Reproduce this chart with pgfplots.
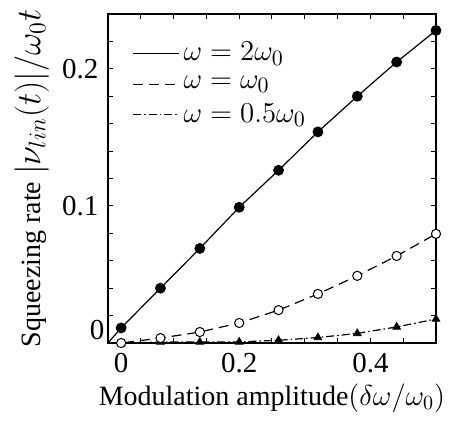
\documentclass[border=0pt]{standalone}
\usepackage{pgfplots}
\pgfplotsset{compat=1.18}
\usepackage{fontspec}
\setmainfont{Liberation Serif}

\pgfplotstableread{
x     a      b       c
0.00  0.000  0.000   0.000
0.02  0.011  0.000   0.000
0.08  0.040  0.0036  0.0007
0.14  0.069  0.008   0.0007
0.20  0.099  0.0146  0.0008
0.26  0.126  0.024   0.002
0.32  0.154  0.0358  0.004
0.38  0.180  0.049   0.007
0.44  0.205  0.0635  0.0117
0.50  0.228  0.0796  0.0175
}\sq

\begin{document}
\fontsize{14}{16}\selectfont
\begin{tikzpicture}
\useasboundingbox (-54pt,-40.5pt) rectangle (175.5pt,171.5pt);
\begin{axis}[
  scale only axis, width=164pt, height=164.5pt,
  xmin=0, xmax=0.5, ymin=0, ymax=0.24,
  xtick={0,0.05,0.1,0.15,0.2,0.25,0.3,0.35,0.4,0.45},
  xticklabels={,,,,0.2,,,,0.4,},
  ytick={0,0.02,0.04,0.06,0.08,0.1,0.12,0.14,0.16,0.18,0.2,0.22},
  yticklabels={,,,,,0.1,,,,,0.2,},
  extra x ticks={0.02}, extra x tick labels={0},
  extra x tick style={major tick length=0pt},
  extra y ticks={0}, extra y tick labels={0},
  extra y tick style={major tick length=0pt, yticklabel style={yshift=6.5pt, xshift=3pt}},
  xtick pos=both, ytick pos=both,
  xticklabel pos=bottom, yticklabel pos=left,
  tick align=inside, major tick length=2.5pt,
  tick style={black, line width=0.5pt},
  axis line style={line width=0.6pt},
  /pgf/number format/assume math mode=true,
  ticklabel style={font=\fontsize{14.5}{16}\selectfont},
  label style={font=\fontsize{14}{16}\selectfont},
  xlabel={Modulation amplitude$(\delta\omega/\omega_0)$},
  ylabel={Squeezing rate {\fontsize{17}{19}\selectfont$|\nu_{lin}(t)|/\omega_0 t$}},
  xlabel style={yshift=4pt},
  ylabel style={yshift=-3pt},
  legend style={at={(axis description cs:0.055,0.94)}, anchor=north west,
    draw=none, fill=none, font=\fontsize{15.5}{17}\selectfont, row sep=1.5pt},
  legend cell align=left,
  legend image code/.code={\draw[#1] (0pt,0pt) -- (23pt,0pt);},
  clip=false]
\addplot[black, line width=0.6pt] table[x=x, y=a] {\sq};
\addlegendentry{$\omega=2\omega_0$}
\addplot[black, line width=0.6pt, dash pattern=on 5pt off 3pt] table[x=x, y=b] {\sq};
\addlegendentry{$\omega=\omega_0$}
\addplot[black, line width=0.6pt, dash pattern=on 4pt off 1.5pt on 0.8pt off 1.5pt] table[x=x, y=c] {\sq};
\addlegendentry{$\omega=0.5\omega_0$}
\addplot[only marks, mark=triangle*, mark size=2.2pt, black, skip coords between index={0}{1}, forget plot] table[x=x, y=c] {\sq};
\addplot[only marks, mark=*, mark size=2.3pt, mark options={fill=white, line width=0.5pt}, black, skip coords between index={0}{1}, forget plot] table[x=x, y=b] {\sq};
\addplot[only marks, mark=*, mark size=2.5pt, black, skip coords between index={0}{1}, forget plot] table[x=x, y=a] {\sq};
\end{axis}
\end{tikzpicture}
\end{document}
